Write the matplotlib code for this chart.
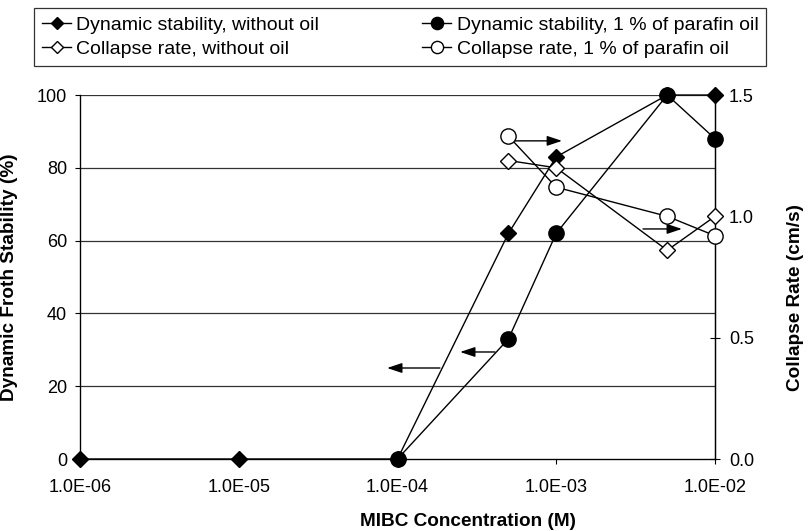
import matplotlib
matplotlib.use("Agg")
import matplotlib.pyplot as plt
from matplotlib.ticker import FixedLocator, FixedFormatter, NullLocator

plt.rcParams['font.family'] = ['Liberation Sans', 'DejaVu Sans']

# ---- data ----
conc_dyn_no = [1e-6, 1e-5, 1e-4, 5e-4, 1e-3, 5e-3, 1e-2]
dyn_no = [0, 0, 0, 62, 83, 100, 100]
conc_dyn_oil = [1e-4, 5e-4, 1e-3, 5e-3, 1e-2]
dyn_oil = [0, 33, 62, 100, 88]
conc_col = [5e-4, 1e-3, 5e-3, 1e-2]
col_no = [1.23, 1.20, 0.86, 1.00]
col_oil = [1.33, 1.12, 1.00, 0.92]

x_ticks = [1e-6, 1e-5, 1e-4, 1e-3, 1e-2]
x_ticklabels = ["1.0E-06", "1.0E-05", "1.0E-04", "1.0E-03", "1.0E-02"]
y_ticks = [0, 20, 40, 60, 80, 100]
y2_ticks = [0.0, 0.5, 1.0, 1.5]
y2_ticklabels = ["0.0", "0.5", "1.0", "1.5"]

labels = ["Dynamic stability, without oil", "Dynamic stability, 1 % of parafin oil",
          "Collapse rate, without oil", "Collapse rate, 1 % of parafin oil"]

W, H = 808, 531
fig = plt.figure(figsize=(W / 100, H / 100), dpi=100)
ax = fig.add_axes([80 / W, 1 - 459 / H, 635 / W, 364 / H])
ax2 = ax.twinx()

TICK_FS = 13
LAB_FS = 13.7

# left axis
ax.set_xscale('log')
ax.set_xlim(1e-6, 1e-2)
ax.set_ylim(0, 100)
ax.xaxis.set_major_locator(FixedLocator(x_ticks))
ax.xaxis.set_major_formatter(FixedFormatter(x_ticklabels))
ax.xaxis.set_minor_locator(NullLocator())
ax.set_yticks(y_ticks)
ax.tick_params(axis='x', direction='out', length=3.6, width=0.8, pad=11, labelsize=TICK_FS)
ax.tick_params(axis='y', direction='out', length=3.6, width=0.8, pad=5.8, labelsize=TICK_FS)
for yv in y_ticks[1:]:
    ax.axhline(yv, color='#333333', lw=0.9, zorder=0.5)
for s in ['left', 'bottom', 'right']:
    ax.spines[s].set_linewidth(0.9)
    ax.spines[s].set_color('black')
ax.spines['top'].set_visible(False)

# right axis
ax2.set_ylim(0, 1.5)
ax2.yaxis.set_major_locator(FixedLocator(y2_ticks))
ax2.yaxis.set_major_formatter(FixedFormatter(y2_ticklabels))
ax2.tick_params(axis='y', direction='inout', length=7.2, width=0.8, pad=6.5, labelsize=TICK_FS)
ax2.spines['top'].set_visible(False)
ax2.spines['right'].set_linewidth(0.9)

l1, = ax.plot(conc_dyn_no, dyn_no, color='black', lw=1.0, marker='D', ms=8,
              mfc='black', mec='black', clip_on=False, zorder=3)
l2, = ax.plot(conc_dyn_oil, dyn_oil, color='black', lw=1.0, marker='o', ms=11,
              mfc='black', mec='black', clip_on=False, zorder=4)
l3, = ax2.plot(conc_col, col_no, color='black', lw=1.0, marker='D', ms=8,
               mfc='white', mec='black', mew=1.0, clip_on=False, zorder=3)
l4, = ax2.plot(conc_col, col_oil, color='black', lw=1.0, marker='o', ms=11,
               mfc='white', mec='black', mew=1.0, clip_on=False, zorder=4)

# arrows indicating which axis each series belongs to
arrow_kw = dict(arrowstyle='-|>,head_length=0.9,head_width=0.3', color='black',
                lw=1.0, shrinkA=0, shrinkB=0, mutation_scale=10)
ax.annotate('', xy=(1.087e-3, 87.4), xytext=(5.12e-4, 87.4), arrowprops=arrow_kw, zorder=5)
ax.annotate('', xy=(6.19e-3, 63.2), xytext=(3.52e-3, 63.2), arrowprops=arrow_kw, zorder=5)
ax.annotate('', xy=(2.48e-4, 29.4), xytext=(4.11e-4, 29.4), arrowprops=arrow_kw, zorder=5)
ax.annotate('', xy=(8.6e-5, 25.0), xytext=(1.85e-4, 25.0), arrowprops=arrow_kw, zorder=5)

# axis labels
ax.set_xlabel("MIBC Concentration (M)", fontsize=LAB_FS, fontweight='bold')
ax.xaxis.label.set_va('center')
ax.xaxis.set_label_coords((468 - 80) / 635, (459 - 522) / 364)
ax.set_ylabel("Dynamic Froth Stability (%)", fontsize=LAB_FS, fontweight='bold')
ax.yaxis.label.set_va('center')
ax.yaxis.set_label_coords((10 - 80) / 635, 0.5)
ax2.set_ylabel("Collapse Rate (cm/s)", fontsize=LAB_FS, fontweight='bold', rotation=90)
ax2.yaxis.label.set_va('center')
ax2.yaxis.set_label_coords((796 - 80) / 635, (459 - 297) / 364)

# legend
leg = fig.legend([l1, l3, l2, l4], [labels[0], labels[2], labels[1], labels[3]],
                 ncol=2, loc='upper left', bbox_to_anchor=(34 / W, 1 - 8 / H),
                 borderaxespad=0, fontsize=14, frameon=True, fancybox=False,
                 edgecolor='black', handlelength=1.5, handletextpad=0.26,
                 columnspacing=5.3, labelspacing=0.32, borderpad=0.42, markerscale=0.8)
leg.get_frame().set_linewidth(0.9)

fig.savefig("out.png", dpi=100)
